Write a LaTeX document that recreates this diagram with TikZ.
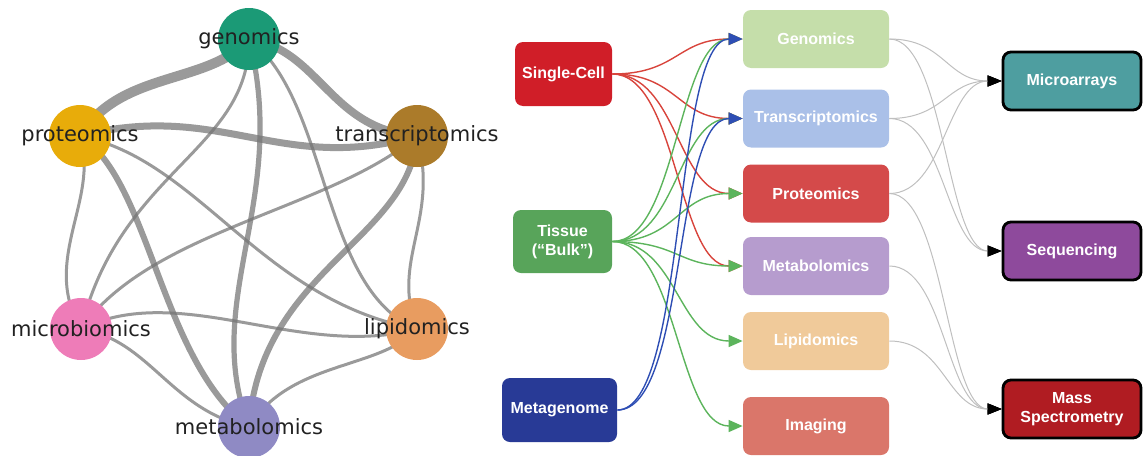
\documentclass[tikz,border=0pt]{standalone}
\usepackage{fontspec}
\setmainfont{Liberation Sans}
\newfontfamily\dejavu{DejaVu Sans}
\usetikzlibrary{arrows.meta}
\pgfdeclarelayer{background}
\pgfsetlayers{background,main}
\definecolor{cgen}{HTML}{1B9A76}
\definecolor{cpro}{HTML}{E8AC0A}
\definecolor{ctra}{HTML}{AB7B2A}
\definecolor{cmic}{HTML}{EE7CB8}
\definecolor{clip}{HTML}{E89C60}
\definecolor{cmet}{HTML}{8F8AC4}
\definecolor{bsc}{HTML}{D01E28}
\definecolor{btis}{HTML}{58A45A}
\definecolor{bmeta}{HTML}{283A96}
\definecolor{mgen}{HTML}{C5DEAA}
\definecolor{mtra}{HTML}{AAC0E8}
\definecolor{mpro}{HTML}{D44A4A}
\definecolor{mmet}{HTML}{B69CCE}
\definecolor{mlip}{HTML}{F0CA9A}
\definecolor{mima}{HTML}{DA766A}
\definecolor{rmic}{HTML}{4E9EA0}
\definecolor{rseq}{HTML}{8E4A9C}
\definecolor{rms}{HTML}{B01C22}
\definecolor{ared}{HTML}{D8443C}
\definecolor{agreen}{HTML}{5CB45C}
\definecolor{ablue}{HTML}{2E4EB4}
\begin{document}
\begin{tikzpicture}[x=0.5pt,y=-0.5pt,
  omic/.style={circle,minimum size=31pt,inner sep=0pt,draw=none},
  olabel/.style={font=\dejavu\fontsize{10.5pt}{12pt}\selectfont,text=black!87,inner sep=0pt},
  gedge/.style={draw=black!55,opacity=0.72,line width=#1},
  box/.style={rounded corners=4pt,inner sep=0pt,text=white,align=center,
    font=\bfseries\fontsize{8pt}{9.5pt}\selectfont},
  srcbox/.style={box,minimum height=32pt},
  midbox/.style={box,minimum width=73pt,minimum height=29pt},
  outbox/.style={box,minimum width=69pt,minimum height=29pt,draw=black,line width=1.4pt},
  carrow/.style={draw=#1,line width=0.7pt,-{Triangle[length=7pt,width=6pt]}},
  garrow/.style={draw=black!25,line width=0.5pt,-{Triangle[length=7pt,width=5.5pt,color=black]}}
]
\useasboundingbox (0,0) rectangle (1143,455);
% ---------- left graph ----------
\node[omic,fill=cgen,label={[olabel]center:genomics}] (g) at (249,39) {};
\node[omic,fill=cpro,label={[olabel]center:proteomics}] (p) at (80,136) {};
\node[omic,fill=ctra,label={[olabel]center:transcriptomics}] (t) at (417,136) {};
\node[omic,fill=cmic,label={[olabel]center:microbiomics}] (mi) at (81,329) {};
\node[omic,fill=clip,label={[olabel]center:lipidomics}] (l) at (417,329) {};
\node[omic,fill=cmet,label={[olabel]center:metabolomics}] (me) at (249,427) {};
\begin{pgfonlayer}{background}
\draw[gedge=5pt] (g.center) .. controls (210,85) and (120,70) .. (p.center);
\draw[gedge=4pt] (g.center) .. controls (320,50) and (330,130) .. (t.center);
\draw[gedge=3.5pt] (p.center) .. controls (220,100) and (280,175) .. (t.center);
\draw[gedge=3pt] (p.center) .. controls (150,180) and (160,360) .. (me.center);
\draw[gedge=3pt] (t.center) .. controls (410,240) and (260,270) .. (me.center);
\draw[gedge=2.6pt] (g.center) .. controls (290,200) and (200,300) .. (me.center);
\draw[gedge=1.5pt] (g.center) .. controls (250,150) and (120,170) .. (mi.center);
\draw[gedge=1.5pt] (g.center) .. controls (330,100) and (320,290) .. (l.center);
\draw[gedge=1.5pt] (p.center) .. controls (100,200) and (40,260) .. (mi.center);
\draw[gedge=1.5pt] (p.center) .. controls (200,160) and (260,300) .. (l.center);
\draw[gedge=1.5pt] (t.center) .. controls (330,210) and (150,230) .. (mi.center);
\draw[gedge=1.5pt] (t.center) .. controls (440,220) and (390,260) .. (l.center);
\draw[gedge=1.5pt] (mi.center) .. controls (180,280) and (300,360) .. (l.center);
\draw[gedge=1.5pt] (mi.center) .. controls (150,340) and (170,410) .. (me.center);
\draw[gedge=1.5pt] (l.center) .. controls (380,370) and (290,360) .. (me.center);
\end{pgfonlayer}
% ---------- right flow ----------
\node[srcbox,fill=bsc,minimum width=48.5pt] (sc) at (563.5,74) {Single-Cell};
\node[srcbox,fill=btis,minimum width=49.5pt,minimum height=31.5pt] (ti) at (562.5,241.5) {Tissue\\(“Bulk”)};
\node[srcbox,fill=bmeta,minimum width=57.5pt] (mg) at (559.5,410) {Metagenome};
\node[midbox,fill=mgen] (ge) at (816,39) {Genomics};
\node[midbox,fill=mtra] (tr) at (816,118.5) {Transcriptomics};
\node[midbox,fill=mpro] (pr) at (816,193.5) {Proteomics};
\node[midbox,fill=mmet] (mb) at (816,266) {Metabolomics};
\node[midbox,fill=mlip] (li) at (816,341) {Lipidomics};
\node[midbox,fill=mima] (im) at (816,426) {Imaging};
\node[outbox,fill=rmic] (ma) at (1072,81) {Microarrays};
\node[outbox,fill=rseq] (sq) at (1072,251) {Sequencing};
\node[outbox,fill=rms] (ms) at (1072,409) {Mass\\Spectrometry};
% source connectors
\foreach \d in {ge,tr,pr,mb}
  \draw[carrow=ared] (sc.east) .. controls +(65,0) and +(-65,0) .. (\d.west);
\foreach \d in {ge,tr,pr,mb,li,im}
  \draw[carrow=agreen] (ti.east) .. controls +(65,0) and +(-65,0) .. (\d.west);
\foreach \d in {ge,tr}
  \draw[carrow=ablue] (mg.east) .. controls +(70,0) and +(-70,0) .. (\d.west);
% platform connectors
\draw[garrow] (ge.east) .. controls +(55,0) and +(-55,0) .. (ma.west);
\draw[garrow] (ge.east) .. controls +(55,0) and +(-55,0) .. (sq.west);
\draw[garrow] (tr.east) .. controls +(55,0) and +(-55,0) .. (ma.west);
\draw[garrow] (tr.east) .. controls +(55,0) and +(-55,0) .. (sq.west);
\draw[garrow] (pr.east) .. controls +(55,0) and +(-55,0) .. (ma.west);
\draw[garrow] (pr.east) .. controls +(55,0) and +(-55,0) .. (ms.west);
\draw[garrow] (mb.east) .. controls +(55,0) and +(-55,0) .. (ms.west);
\draw[garrow] (li.east) .. controls +(55,0) and +(-55,0) .. (ms.west);
\end{tikzpicture}
\end{document}
